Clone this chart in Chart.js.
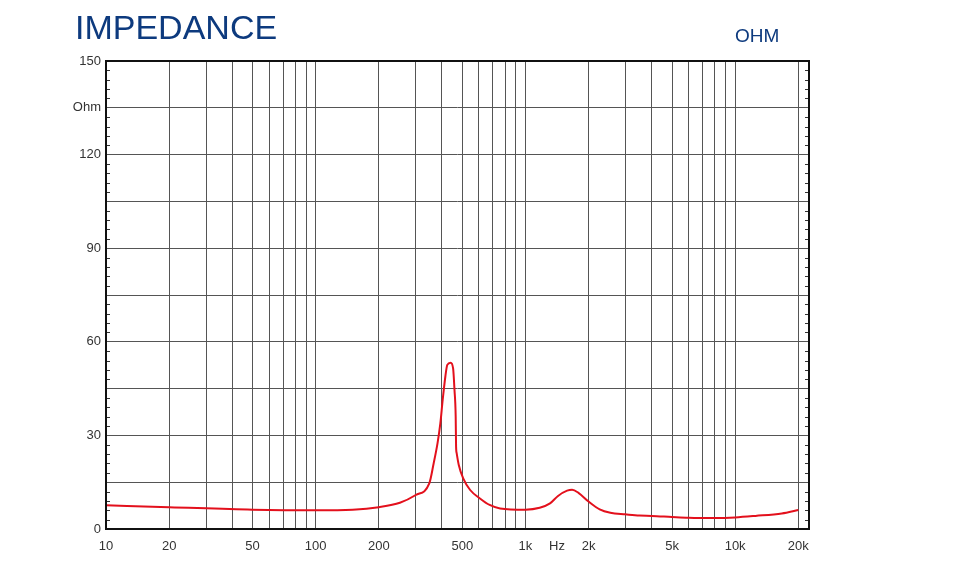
<!DOCTYPE html>
<html>
<head>
<meta charset="utf-8">
<script src="https://cdn.jsdelivr.net/npm/chart.js@4/dist/chart.umd.min.js"></script>
<style>
  html, body { margin: 0; padding: 0; background: #fff; }
  #wrap { position: relative; width: 960px; height: 585px; }
  #title { position: absolute; left: 75px; top: 10px; font: 34px/34px "Liberation Sans", Arial, sans-serif; color: #0d3a7e; }
  #unit { position: absolute; left: 735px; top: 26px; font: 19px/19px "Liberation Sans", Arial, sans-serif; color: #0d3a7e; }
</style>
</head>
<body>
<div id="wrap">
  <canvas id="imp" width="960" height="585"></canvas>
  <div id="title">IMPEDANCE</div>
  <div id="unit">OHM</div>
</div>
<script>
const freqHz = [10, 20, 50, 100, 150, 200, 252, 300, 348, 365, 381, 393, 403, 415, 424, 440, 452, 459, 465, 467, 470, 481, 505, 545, 607, 675, 757, 1000, 1170, 1310, 1430, 1580, 1670, 1790, 2000, 2260, 2540, 3000, 3500, 4000, 5000, 6000, 8000, 10000, 12500, 16700, 20000];
const ohms = [7.6, 7.0, 6.2, 6.0, 6.2, 7.0, 8.4, 10.9, 14.6, 21, 27.5, 33.9, 41.3, 48.8, 52.6, 53.3, 51.5, 44.5, 36, 26.4, 24.3, 20.5, 16.2, 12.5, 9.8, 7.7, 6.6, 6.2, 6.8, 8.2, 10.6, 12.3, 12.6, 11.6, 8.8, 6.3, 5.2, 4.7, 4.3, 4.2, 3.85, 3.6, 3.5, 3.7, 4.2, 5.0, 6.1];

// vertical grid lines (log decades)
const xGrid = [10, 20, 30, 40, 50, 60, 70, 80, 90, 100, 200, 300, 400, 500, 600, 700, 800, 900,
  1000, 2000, 3000, 4000, 5000, 6000, 7000, 8000, 9000, 10000, 20000];
const xLabels = { 10: '10', 20: '20', 50: '50', 100: '100', 200: '200', 500: '500',
  1000: '1k', 1414: 'Hz', 2000: '2k', 5000: '5k', 10000: '10k', 20000: '20k' };
const xTicks = xGrid.concat([1414]).sort((a, b) => a - b);
const yLabels = { 0: '0', 30: '30', 60: '60', 90: '90', 120: '120', 135: 'Ohm', 150: '150' };

const gridColor = '#555';

// frame round the plot and short minor ticks every 3 ohm on both sides
const framePlugin = {
  id: 'frame',
  afterDraw(chart) {
    const { ctx, chartArea: a, scales } = chart;
    ctx.save();
    ctx.strokeStyle = '#333';
    ctx.lineWidth = 1;
    for (let v = 3; v < 150; v += 3) {
      if (v % 15 === 0) continue;
      const y = Math.round(scales.y.getPixelForValue(v)) + 0.5;
      ctx.beginPath();
      ctx.moveTo(a.left, y); ctx.lineTo(a.left + 4, y);
      ctx.moveTo(a.right - 4, y); ctx.lineTo(a.right, y);
      ctx.stroke();
    }
    ctx.strokeStyle = '#111';
    ctx.lineWidth = 2;
    ctx.strokeRect(a.left, a.top, a.right - a.left, a.bottom - a.top);
    ctx.restore();
  }
};

new Chart(document.getElementById('imp').getContext('2d'), {
  type: 'line',
  data: {
    datasets: [{
      data: freqHz.map((f, i) => ({ x: f, y: ohms[i] })),
      borderColor: '#e3101c',
      borderWidth: 2,
      pointRadius: 0,
      cubicInterpolationMode: 'monotone',
      fill: false
    }]
  },
  options: {
    responsive: false,
    animation: false,
    layout: { padding: { left: 0, top: 61, right: 151, bottom: 0 } },
    plugins: { legend: { display: false }, tooltip: { enabled: false } },
    scales: {
      x: {
        type: 'logarithmic',
        min: 10,
        max: 22500,
        afterBuildTicks: scale => { scale.ticks = xTicks.map(v => ({ value: v })); },
        afterFit: scale => { scale.height = 56; },
        grid: {
          color: c => (c.tick && c.tick.value === 1414) ? 'rgba(0,0,0,0)' : gridColor,
          lineWidth: 1,
          drawTicks: false
        },
        border: { display: false },
        ticks: {
          autoSkip: false,
          maxRotation: 0,
          padding: 10,
          color: '#333',
          font: { family: 'Liberation Sans', size: 13 },
          callback: v => xLabels[v] || ''
        }
      },
      y: {
        min: 0,
        max: 150,
        afterFit: scale => { scale.width = 106; },
        grid: { color: gridColor, lineWidth: 1, drawTicks: false },
        border: { display: false },
        ticks: {
          stepSize: 15,
          padding: 5,
          color: '#333',
          font: { family: 'Liberation Sans', size: 13 },
          callback: v => yLabels[v] || ''
        }
      }
    }
  },
  plugins: [framePlugin]
});
</script>
</body>
</html>
